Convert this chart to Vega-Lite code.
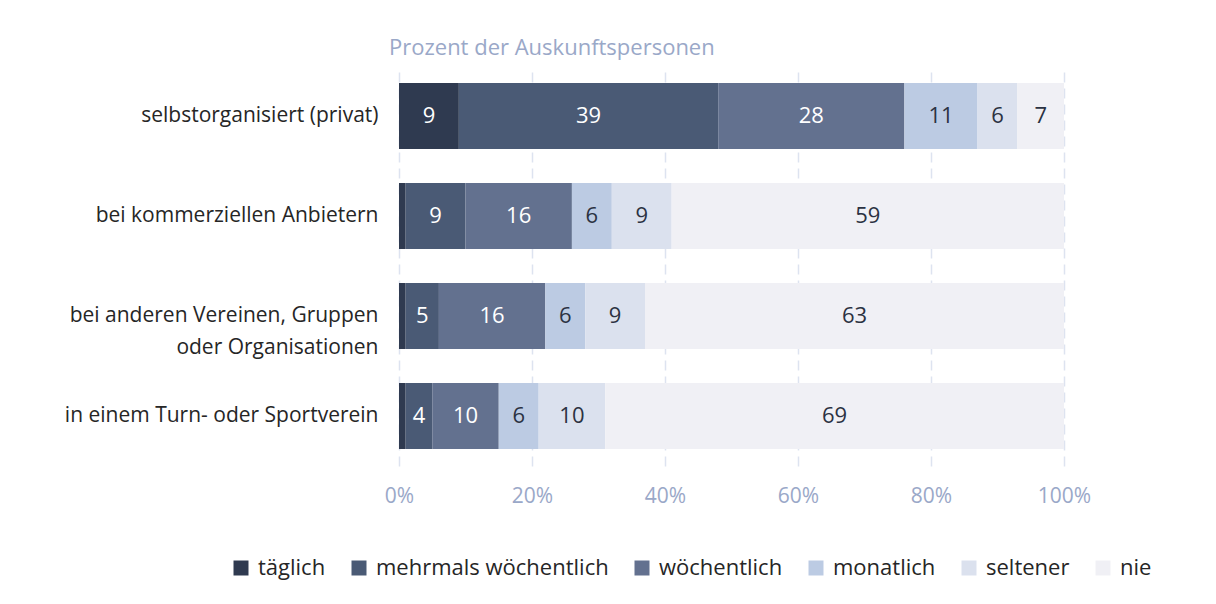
{
  "$schema": "https://vega.github.io/schema/vega-lite/v6.json",
  "width": 665,
  "height": 400,
  "autosize": "none",
  "padding": {"left": 399, "top": 66, "right": 152, "bottom": 138},
  "background": "white",
  "title": {
    "text": "Prozent der Auskunftspersonen",
    "anchor": "start",
    "frame": "group",
    "dx": -10,
    "offset": 6,
    "fontSize": 22,
    "fontWeight": "normal",
    "font": "Open Sans",
    "color": "#9aa8c8"
  },
  "data": {
    "values": [
      {"cat": "selbstorganisiert (privat)", "k": "täglich", "rang": 1, "v": 9},
      {"cat": "selbstorganisiert (privat)", "k": "mehrmals wöchentlich", "rang": 2, "v": 39},
      {"cat": "selbstorganisiert (privat)", "k": "wöchentlich", "rang": 3, "v": 28},
      {"cat": "selbstorganisiert (privat)", "k": "monatlich", "rang": 4, "v": 11},
      {"cat": "selbstorganisiert (privat)", "k": "seltener", "rang": 5, "v": 6},
      {"cat": "selbstorganisiert (privat)", "k": "nie", "rang": 6, "v": 7},
      {"cat": "bei kommerziellen Anbietern", "k": "täglich", "rang": 1, "v": 1},
      {"cat": "bei kommerziellen Anbietern", "k": "mehrmals wöchentlich", "rang": 2, "v": 9},
      {"cat": "bei kommerziellen Anbietern", "k": "wöchentlich", "rang": 3, "v": 16},
      {"cat": "bei kommerziellen Anbietern", "k": "monatlich", "rang": 4, "v": 6},
      {"cat": "bei kommerziellen Anbietern", "k": "seltener", "rang": 5, "v": 9},
      {"cat": "bei kommerziellen Anbietern", "k": "nie", "rang": 6, "v": 59},
      {"cat": "bei anderen Vereinen, Gruppen|oder Organisationen", "k": "täglich", "rang": 1, "v": 1},
      {"cat": "bei anderen Vereinen, Gruppen|oder Organisationen", "k": "mehrmals wöchentlich", "rang": 2, "v": 5},
      {"cat": "bei anderen Vereinen, Gruppen|oder Organisationen", "k": "wöchentlich", "rang": 3, "v": 16},
      {"cat": "bei anderen Vereinen, Gruppen|oder Organisationen", "k": "monatlich", "rang": 4, "v": 6},
      {"cat": "bei anderen Vereinen, Gruppen|oder Organisationen", "k": "seltener", "rang": 5, "v": 9},
      {"cat": "bei anderen Vereinen, Gruppen|oder Organisationen", "k": "nie", "rang": 6, "v": 63},
      {"cat": "in einem Turn- oder Sportverein", "k": "täglich", "rang": 1, "v": 1},
      {"cat": "in einem Turn- oder Sportverein", "k": "mehrmals wöchentlich", "rang": 2, "v": 4},
      {"cat": "in einem Turn- oder Sportverein", "k": "wöchentlich", "rang": 3, "v": 10},
      {"cat": "in einem Turn- oder Sportverein", "k": "monatlich", "rang": 4, "v": 6},
      {"cat": "in einem Turn- oder Sportverein", "k": "seltener", "rang": 5, "v": 10},
      {"cat": "in einem Turn- oder Sportverein", "k": "nie", "rang": 6, "v": 69}
    ]
  },
  "transform": [
    {"stack": "v", "groupby": ["cat"], "sort": [{"field": "rang"}], "as": ["v0", "v1"]},
    {"calculate": "(datum.v0 + datum.v1) / 2", "as": "mid"}
  ],
  "encoding": {
    "y": {
      "field": "cat",
      "type": "nominal",
      "sort": ["selbstorganisiert (privat)", "bei kommerziellen Anbietern", "bei anderen Vereinen, Gruppen|oder Organisationen", "in einem Turn- oder Sportverein"],
      "scale": {"paddingInner": 0.34, "paddingOuter": 0.17},
      "axis": {
        "title": null,
        "domain": false,
        "ticks": false,
        "labelPadding": 21,
        "labelFontSize": 21,
        "labelFont": "Open Sans",
        "labelColor": "#262626",
        "labelLineHeight": 32,
        "labelLimit": 400,
        "labelExpr": "split(datum.label, '|')"
      }
    }
  },
  "layer": [
    {
      "mark": {"type": "bar"},
      "encoding": {
        "x": {
          "field": "v0",
          "type": "quantitative",
          "scale": {"domain": [0, 100], "nice": false},
          "axis": {
            "title": null,
            "values": [0, 20, 40, 60, 80, 100],
            "labelExpr": "datum.value + '%'",
            "labelFlush": false,
            "domain": false,
            "ticks": false,
            "grid": true,
            "gridColor": "#dde3f0",
            "gridDash": [10, 6],
            "gridWidth": 1.5,
            "labelPadding": 19,
            "labelFontSize": 21,
            "labelFont": "Open Sans",
            "labelColor": "#9aa8c8"
          }
        },
        "x2": {"field": "v1"},
        "color": {
          "field": "k",
          "type": "nominal",
          "sort": ["täglich", "mehrmals wöchentlich", "wöchentlich", "monatlich", "seltener", "nie"],
          "scale": {
            "domain": ["täglich", "mehrmals wöchentlich", "wöchentlich", "monatlich", "seltener", "nie"],
            "range": ["#2f3a50", "#4a5a75", "#63718f", "#bccbe3", "#dbe1ee", "#f0f0f5"]
          },
          "legend": {
            "title": null,
            "orient": "none",
            "direction": "horizontal",
            "legendX": -169,
            "legendY": 491,
            "symbolType": "square",
            "symbolSize": 225,
            "symbolStrokeWidth": 0,
            "symbolOpacity": 1,
            "labelFontSize": 22,
            "labelFont": "Open Sans",
            "labelColor": "#262626",
            "labelOffset": 6,
            "labelLimit": 400,
            "columnPadding": 22
          }
        }
      }
    },
    {
      "transform": [{"filter": "datum.v >= 2"}],
      "mark": {"type": "text", "fontSize": 22, "font": "Open Sans", "baseline": "middle", "align": "center"},
      "encoding": {
        "x": {"field": "mid", "type": "quantitative"},
        "text": {"field": "v", "type": "quantitative"},
        "color": {
          "condition": {"test": "datum.rang <= 3", "value": "white"},
          "value": "#2b3242"
        }
      }
    }
  ],
  "config": {"view": {"stroke": null}}
}
